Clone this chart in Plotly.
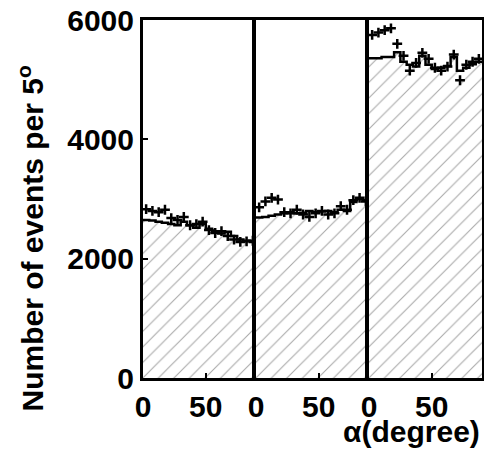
import plotly.graph_objects as go

alpha = [2.5 + 5 * i for i in range(18)]
edges = [5 * i for i in range(19)]

mc1 = [2650, 2640, 2620, 2600, 2580, 2560, 2620, 2560, 2520, 2580, 2500, 2460, 2420, 2450, 2380, 2320, 2300, 2280]
data1 = [2830, 2800, 2780, 2820, 2680, 2650, 2700, 2560, 2580, 2620, 2480, 2430, 2460, 2380, 2320, 2280, 2290, 2300]

mc2 = [2690, 2700, 2720, 2740, 2760, 2780, 2760, 2770, 2800, 2780, 2790, 2800, 2780, 2820, 2800, 2950, 3000, 2980]
data2 = [2860, 2960, 3020, 2990, 2780, 2760, 2820, 2740, 2700, 2760, 2800, 2740, 2760, 2880, 2820, 2980, 3020, 2960]

mc3 = [5360, 5360, 5380, 5380, 5460, 5300, 5250, 5220, 5400, 5250, 5180, 5200, 5230, 5380, 5150, 5200, 5260, 5300]
data3 = [5750, 5790, 5830, 5860, 5600, 5400, 5150, 5280, 5450, 5350, 5200, 5150, 5220, 5420, 4990, 5250, 5300, 5350]

x_ticks = [0, 50]
y_ticks = [0, 2000, 4000, 6000]

fig = go.Figure()
panels = [(mc1, data1, "x", "y"), (mc2, data2, "x2", "y2"), (mc3, data3, "x3", "y3")]
for mc, dat, xa, ya in panels:
    fig.add_trace(go.Bar(
        x=alpha, y=mc, width=5, xaxis=xa, yaxis=ya,
        marker=dict(color="white", line=dict(width=0),
                    pattern=dict(shape="/", fgcolor="#555", bgcolor="white", size=11, solidity=0.1)),
        showlegend=False,
    ))
    fig.add_trace(go.Scatter(
        x=edges, y=mc + [mc[-1]], mode="lines", line=dict(shape="hv", color="black", width=2.5),
        xaxis=xa, yaxis=ya, showlegend=False,
    ))
    fig.add_trace(go.Scatter(
        x=alpha, y=dat, mode="markers", xaxis=xa, yaxis=ya, showlegend=False,
        marker=dict(symbol="cross-thin", size=7, line=dict(color="black", width=2.5)),
    ))

font = dict(family="Liberation Sans", size=30, color="black")
fig.update_layout(
    width=484, height=452,
    margin=dict(l=143, r=2, t=20, b=74, autoexpand=False),
    paper_bgcolor="white", plot_bgcolor="white",
    bargap=0,
    font=font,
)
domains = [[0, 1/3], [1/3, 2/3], [2/3, 1]]
for i, (xa, ya) in enumerate([("xaxis", "yaxis"), ("xaxis2", "yaxis2"), ("xaxis3", "yaxis3")]):
    yname = "y" if i == 0 else "y%d" % (i + 1)
    xname = "x" if i == 0 else "x%d" % (i + 1)
    fig.layout[xa] = dict(
        domain=domains[i], range=[0, 90], anchor=yname, automargin=False,
        tickvals=x_ticks, ticktext=["<b>%d</b>" % v for v in x_ticks],
        ticks="inside", ticklen=5, tickwidth=2, tickcolor="black",
        showline=True, linewidth=3, linecolor="black", mirror=True,
        showgrid=False, zeroline=False, tickfont=font, ticklabeloverflow="allow",
    )
    yd = dict(
        range=[0, 6000], anchor=xname, automargin=False,
        tickvals=y_ticks, ticktext=["<b>%d</b>" % v for v in y_ticks],
        ticks="inside" if i == 0 else "", ticklen=5, tickwidth=2, tickcolor="black",
        showline=True, linewidth=3 if i == 0 else 4, linecolor="black", mirror=(i == 2),
        showgrid=False, zeroline=False, tickfont=font, ticklabeloverflow="allow",
        showticklabels=(i == 0),
    )
    if i > 0:
        yd["matches"] = "y"
    fig.layout[ya] = yd

fig.add_annotation(text="<b>Number of events per 5<sup>o</sup></b>", xref="paper", yref="paper",
                   x=-0.33, y=0.39, textangle=-90, xanchor="center", yanchor="middle",
                   showarrow=False, font=font)
fig.add_annotation(text="<b>α(degree)</b>", xref="paper", yref="paper", x=1.0, y=-0.15,
                   xanchor="right", yanchor="middle", showarrow=False,
                   font=dict(family="Liberation Sans", size=30, color="black"))

fig.write_html("out.html", config={"displayModeBar": False},
               post_script="document.body.style.margin='0';")
